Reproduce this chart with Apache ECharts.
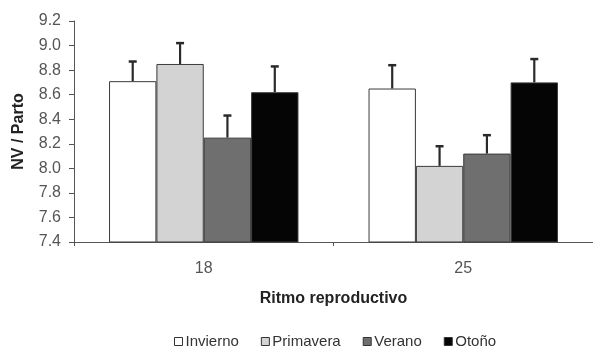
<!DOCTYPE html>
<html><head><meta charset="utf-8">
<script src="https://cdn.jsdelivr.net/npm/echarts@6/dist/echarts.min.js"></script>
<style>html,body{margin:0;padding:0;background:#fff}#c{width:593px;height:349px}</style>
</head><body><div id="c"></div>
<script>
var categories = ['18', '25'];
var seriesNames = ['Invierno', 'Primavera', 'Verano', 'Otoño'];
var invierno = [8.71, 8.65];
var primavera = [8.85, 8.02];
var verano = [8.25, 8.12];
var otono = [8.62, 8.70];
var inviernoErr = [8.87, 8.84];
var primaveraErr = [9.02, 8.18];
var veranoErr = [8.43, 8.27];
var otonoErr = [8.83, 8.89];
var yTicks = [7.4, 7.6, 7.8, 8.0, 8.2, 8.4, 8.6, 8.8, 9.0, 9.2];

var colors = ['#ffffff', '#d3d3d3', '#6f6f6f', '#050505'];
var values = [invierno, primavera, verano, otono];
var errs = [inviernoErr, primaveraErr, veranoErr, otonoErr];
var gapFrac = 0.27;

var chart = echarts.init(document.getElementById('c'));
var series = [];
values.forEach(function (v, i) {
  series.push({
    name: seriesNames[i], type: 'bar', data: v,
    barGap: 0, barCategoryGap: '27%',
    itemStyle: { color: colors[i], borderColor: '#3a3a3a', borderWidth: 1 },
    z: 2
  });
});
errs.forEach(function (e, i) {
  series.push({
    type: 'custom', z: 1,
    data: e.map(function (hi, k) { return [k, values[i][k], hi]; }),
    renderItem: function (params, api) {
      var band = api.size([1, 0])[0];
      var bw = band * (1 - gapFrac) / 4;
      var off = (i - 1.5) * bw;
      var lo = api.coord([api.value(0), api.value(1)]);
      var hi = api.coord([api.value(0), api.value(2)]);
      var x = lo[0] + off;
      return { type: 'group', children: [
        { type: 'line', shape: { x1: x, y1: lo[1], x2: x, y2: hi[1] }, style: { stroke: '#2a2a2a', lineWidth: 2.2 } },
        { type: 'line', shape: { x1: x - 4, y1: hi[1], x2: x + 4, y2: hi[1] }, style: { stroke: '#2a2a2a', lineWidth: 2.5 } }
      ]};
    },
    encode: { x: 0, y: [1, 2] },
    silent: true
  });
});

chart.setOption({
  animation: false,
  textStyle: { fontFamily: 'Liberation Sans, Arial, sans-serif' },
  legend: {
    data: seriesNames.map(function (n) { return { name: n, icon: 'rect' }; }),
    top: 334, left: 174, padding: 0, itemWidth: 8, itemHeight: 8, itemGap: 22,
    textStyle: { fontSize: 15, color: '#333', padding: [0, 0, 0, -2] },
    itemStyle: { borderColor: '#333', borderWidth: 1 }
  },
  grid: { left: 74, width: 523, top: 21, bottom: 107 },
  xAxis: {
    type: 'category', data: categories,
    name: 'Ritmo reproductivo', nameLocation: 'middle', nameGap: 49,
    nameTextStyle: { fontWeight: 'bold', fontSize: 16, color: '#222' },
    axisLine: { lineStyle: { color: '#555' } },
    axisTick: { show: true, length: 4, lineStyle: { color: '#555' } },
    axisLabel: { fontSize: 16, color: '#555', margin: 19 }
  },
  yAxis: {
    type: 'value', min: 7.4, max: 9.2, interval: 0.2,
    name: 'NV / Parto', nameLocation: 'middle', nameGap: 47,
    nameTextStyle: { fontWeight: 'bold', fontSize: 16, color: '#222' },
    axisLine: { show: true, lineStyle: { color: '#555' } },
    axisTick: { show: true, length: 5, lineStyle: { color: '#555' } },
    splitLine: { show: false },
    axisLabel: { fontSize: 16, color: '#555', margin: 13,
      formatter: function (v) { return v.toFixed(1); } }
  },
  series: series
});
</script></body></html>
